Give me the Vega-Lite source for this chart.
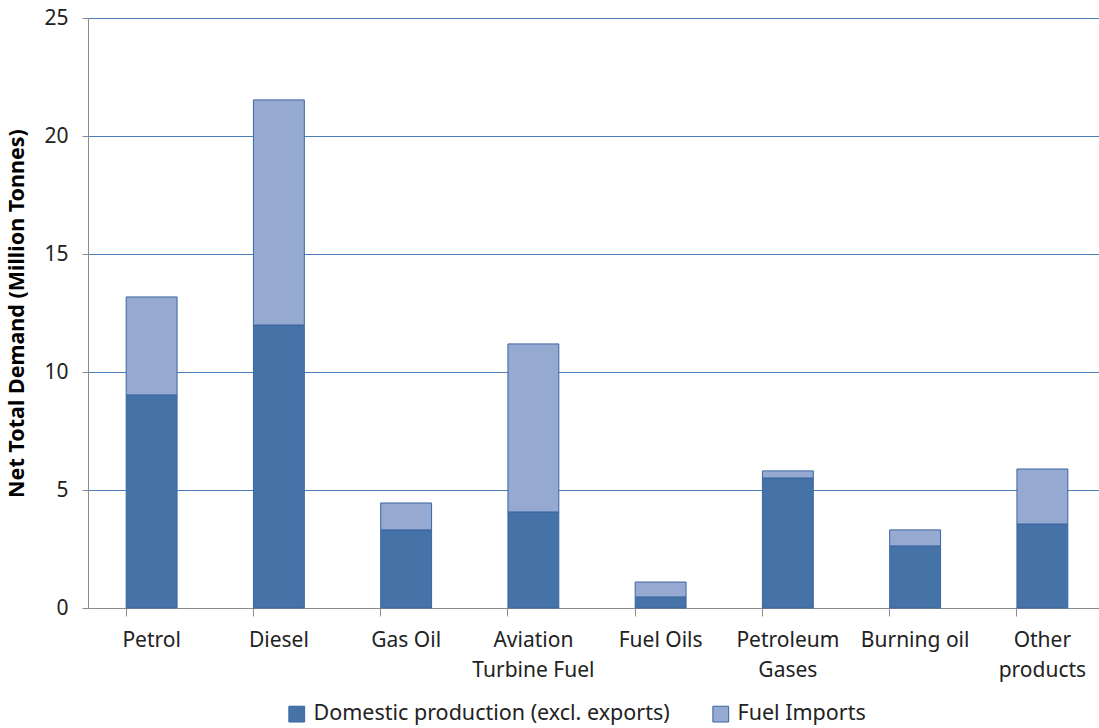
{
  "$schema": "https://vega.github.io/schema/vega-lite/v6.json",
  "autosize": "none",
  "padding": {"left": 88, "top": 18, "right": 0, "bottom": 120},
  "width": 1018,
  "height": 590,
  "background": "white",
  "config": {
    "font": "Noto Sans",
    "view": {"stroke": null}
  },
  "data": {
    "values": [
      {"product": "Petrol", "series": "Domestic production (excl. exports)", "value": 9.03},
      {"product": "Petrol", "series": "Fuel Imports", "value": 4.15},
      {"product": "Diesel", "series": "Domestic production (excl. exports)", "value": 11.99},
      {"product": "Diesel", "series": "Fuel Imports", "value": 9.54},
      {"product": "Gas Oil", "series": "Domestic production (excl. exports)", "value": 3.31},
      {"product": "Gas Oil", "series": "Fuel Imports", "value": 1.14},
      {"product": "Aviation Turbine Fuel", "series": "Domestic production (excl. exports)", "value": 4.07},
      {"product": "Aviation Turbine Fuel", "series": "Fuel Imports", "value": 7.12},
      {"product": "Fuel Oils", "series": "Domestic production (excl. exports)", "value": 0.47},
      {"product": "Fuel Oils", "series": "Fuel Imports", "value": 0.63},
      {"product": "Petroleum Gases", "series": "Domestic production (excl. exports)", "value": 5.51},
      {"product": "Petroleum Gases", "series": "Fuel Imports", "value": 0.3},
      {"product": "Burning oil", "series": "Domestic production (excl. exports)", "value": 2.63},
      {"product": "Burning oil", "series": "Fuel Imports", "value": 0.68},
      {"product": "Other products", "series": "Domestic production (excl. exports)", "value": 3.56},
      {"product": "Other products", "series": "Fuel Imports", "value": 2.33}
    ]
  },
  "mark": {"type": "bar", "stroke": "#3b66a0", "strokeWidth": 1},
  "encoding": {
    "x": {
      "field": "product",
      "type": "nominal",
      "sort": null,
      "scale": {"paddingInner": 0.6, "paddingOuter": 0.3},
      "axis": {
        "title": null,
        "labelAngle": 0,
        "labelFontSize": 21,
        "labelColor": "#222222",
        "labelPadding": 13,
        "labelLineHeight": 30,
        "labelExpr": "datum.value == 'Aviation Turbine Fuel' ? ['Aviation', 'Turbine Fuel'] : datum.value == 'Petroleum Gases' ? ['Petroleum', 'Gases'] : datum.value == 'Other products' ? ['Other', 'products'] : datum.value",
        "bandPosition": 0,
        "tickSize": 8,
        "tickColor": "#8c8c8c",
        "domainColor": "#8c8c8c",
        "grid": false
      }
    },
    "y": {
      "field": "value",
      "type": "quantitative",
      "stack": "zero",
      "scale": {"domain": [0, 25]},
      "axis": {
        "title": "Net Total Demand (Million Tonnes)",
        "titleFontSize": 21.5,
        "titleFontWeight": "bold",
        "titleColor": "#000000",
        "titlePadding": 15,
        "values": [0, 5, 10, 15, 20, 25],
        "labelFontSize": 21,
        "labelColor": "#222222",
        "labelPadding": 14,
        "tickSize": 6,
        "tickColor": "#8c8c8c",
        "domainColor": "#8c8c8c",
        "gridColor": "#4a7ebb",
        "gridWidth": 1
      }
    },
    "color": {
      "field": "series",
      "type": "nominal",
      "scale": {
        "domain": ["Domestic production (excl. exports)", "Fuel Imports"],
        "range": ["#4573a7", "#95a9d1"]
      },
      "legend": {
        "title": null,
        "orient": "none",
        "direction": "horizontal",
        "legendX": 198,
        "legendY": 685,
        "symbolType": "square",
        "symbolSize": 250,
        "symbolStrokeColor": "#3b66a0",
        "symbolStrokeWidth": 1,
        "labelFontSize": 21.5,
        "labelLimit": 600,
        "labelColor": "#222222",
        "labelOffset": 6,
        "columnPadding": 40
      }
    },
    "order": {"field": "series", "sort": "ascending"}
  }
}
